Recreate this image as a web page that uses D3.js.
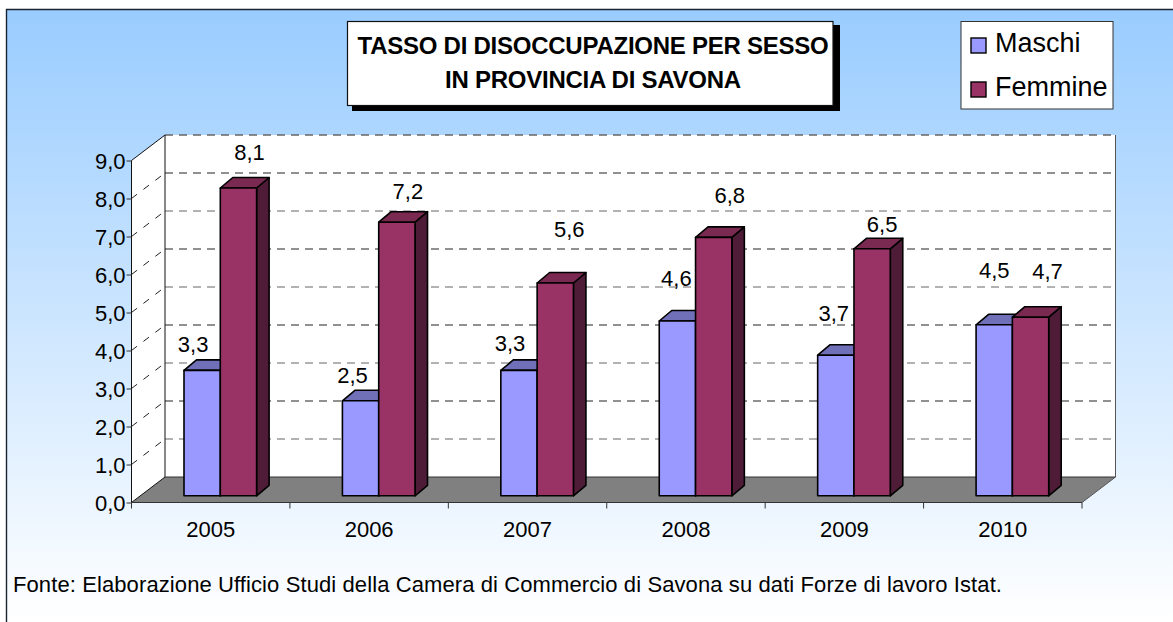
<!DOCTYPE html>
<html><head><meta charset="utf-8">
<script src="https://cdn.jsdelivr.net/npm/d3@7"></script>
<style>html,body{margin:0;padding:0;background:#fff}svg{display:block}text{font-family:"Liberation Sans",Arial,sans-serif;fill:#000}</style>
</head><body><svg id="c" width="1173" height="622"></svg>
<script>
const years=["2005","2006","2007","2008","2009","2010"];
const maschi=[3.3,2.5,3.3,4.6,3.7,4.5];
const femmine=[8.1,7.2,5.6,6.8,6.5,4.7];
const tickValues=[0,1,2,3,4,5,6,7,8,9];
const titleLines=["TASSO DI DISOCCUPAZIONE PER SESSO","IN PROVINCIA DI SAVONA"];
const source="Fonte: Elaborazione Ufficio Studi della Camera di Commercio di Savona su dati Forze di lavoro Istat.";
const seriesNames=["Maschi","Femmine"];
// hand-placed data label nudges, relative to each bar's top centre
const maschiNudgeX=[-9,-8,-9,-1,-2,0], maschiNudgeY=[-18,-18,-19,-35,-34,-47];
const femmineNudgeX=[11,11,14,16,10,17], femmineNudgeY=[-28,-23,-46,-34,-17,-38];

const svg=d3.select("#c");
const fmt=v=>v.toFixed(1).replace(".",",");
const defs=svg.append("defs");
const g=defs.append("linearGradient").attr("id","bg").attr("x1",0).attr("y1",0).attr("x2",0).attr("y2",1);
g.append("stop").attr("offset",0).attr("stop-color","#99CCFF");
g.append("stop").attr("offset",1).attr("stop-color","#FFFFFF");
svg.append("rect").attr("x",6.5).attr("y",9.5).attr("width",1167).attr("height",613).attr("fill","url(#bg)");
svg.append("path").attr("d","M6.5,622V9.5H1173").attr("fill","none").attr("stroke","#1a2430").attr("stroke-width",1.4);

const x=d3.scaleBand().domain(years).range([131.5,1082]);
const y=d3.scaleLinear().domain([0,9]).range([502.5,160.5]);
const wallDx=33.5,wallDy=-25.5;
const x0=x.range()[0],x1=x.range()[1];

const pts=a=>a.map(p=>p.join(",")).join(" ");
svg.append("polygon").attr("points",pts([[x0,y(9)],[x0+wallDx,y(9)+wallDy],[x1+wallDx,y(9)+wallDy],[x1+wallDx,y(0)+wallDy],[x0+wallDx,y(0)+wallDy],[x0,y(0)]])).attr("fill","#fff");
svg.append("polygon").attr("points",pts([[x0,y(0)],[x0+wallDx,y(0)+wallDy],[x1+wallDx,y(0)+wallDy],[x1,y(0)]])).attr("fill","#808080");

tickValues.slice(1).forEach(v=>{
  const yy=y(v);
  svg.append("line").attr("x1",x0+wallDx).attr("x2",x1+wallDx).attr("y1",yy+wallDy).attr("y2",yy+wallDy)
    .attr("stroke",v%2?"#666":"#222").attr("stroke-width",v===9?1.5:1).attr("stroke-dasharray","8,6");
  if(v<9) svg.append("line").attr("x1",x0).attr("x2",x0+wallDx).attr("y1",yy).attr("y2",yy+wallDy)
    .attr("stroke","#222").attr("stroke-dasharray","7,8");
});
svg.append("path").attr("fill","none").attr("stroke","#111").attr("d",
 `M${x0},${y(0)}V${y(9)}L${x0+wallDx},${y(9)+wallDy}V${y(0)+wallDy}L${x0},${y(0)}`);
svg.append("path").attr("fill","none").attr("stroke","#555").attr("d",
 `M${x1+wallDx},${y(9)+wallDy}V${y(0)+wallDy}L${x1},${y(0)}`);
svg.append("line").attr("x1",x0+wallDx).attr("x2",x1+wallDx).attr("y1",y(0)+wallDy).attr("y2",y(0)+wallDy).attr("stroke","#333");

const axL=svg.append("g").attr("transform",`translate(${x0},0)`).call(d3.axisLeft(y).tickValues(tickValues).tickFormat(fmt).tickSize(5).tickPadding(1));
axL.select(".domain").remove();
axL.selectAll("line").attr("stroke","#333");
axL.selectAll("text").style("font-size","22px").attr("dy","0.36em");
const axB=svg.append("g").attr("transform",`translate(0,${y(0)})`).call(d3.axisBottom(x).tickSize(0).tickPadding(19));
axB.select(".domain").attr("stroke","#333").attr("d",`M${x0},0H${x1}`);
axB.selectAll("line").remove();
axB.selectAll("text").style("font-size","22px");
[...years.map(d=>x(d)),x1].forEach(px=>svg.append("line").attr("x1",px).attr("x2",px).attr("y1",y(0)).attr("y2",y(0)+6).attr("stroke","#333"));

const barW=36.3, barInset=52.5;
const barShiftY=-6.7, depthX=12.5, depthY=-10.5;
const colors=[{f:"#9999FF",t:"#7070B8",s:"#5c5c99"},{f:"#993366",t:"#7A2950",s:"#4F1C38"}];
const bar=(cx,v,c)=>{
  const top=y(v)+barShiftY,bot=y(0)+barShiftY,gr=svg.append("g").attr("stroke","#000").attr("stroke-width",1.6).attr("stroke-linejoin","round");
  gr.append("polygon").attr("fill",c.s).attr("points",pts([[cx+barW,top],[cx+barW+depthX,top+depthY],[cx+barW+depthX,bot+depthY],[cx+barW,bot]]));
  gr.append("polygon").attr("fill",c.t).attr("points",pts([[cx,top],[cx+depthX,top+depthY],[cx+barW+depthX,top+depthY],[cx+barW,top]]));
  gr.append("rect").attr("fill",c.f).attr("x",cx).attr("y",top).attr("width",barW).attr("height",bot-top);
};
years.forEach((yr,i)=>{
  const bx=x(yr)+barInset;
  bar(bx,maschi[i],colors[0]);
  bar(bx+barW,femmine[i],colors[1]);
});
const labels=svg.append("g");
years.forEach((yr,i)=>{
  const bx=x(yr)+barInset;
  labels.append("text").attr("x",bx+barW/2+maschiNudgeX[i]).attr("y",y(maschi[i])+barShiftY+maschiNudgeY[i]).attr("text-anchor","middle").style("font-size","22px").text(fmt(maschi[i]));
  labels.append("text").attr("x",bx+barW*1.5+femmineNudgeX[i]).attr("y",y(femmine[i])+barShiftY+femmineNudgeY[i]).attr("text-anchor","middle").style("font-size","22px").text(fmt(femmine[i]));
});

const tb=svg.append("g");
tb.append("rect").attr("x",352).attr("y",25).attr("width",488).attr("height",86).attr("fill","#000");
tb.append("rect").attr("x",347.5).attr("y",21.5).attr("width",485.5).attr("height",84).attr("fill","#fff").attr("stroke","#111").attr("stroke-width",1.2);
titleLines.forEach((t,i)=>tb.append("text").attr("x",593).attr("y",53.5+i*34.5).attr("text-anchor","middle").style("font-size","24px").style("font-weight","bold").style("letter-spacing","-0.25px").text(t));

const lg=svg.append("g");
lg.append("rect").attr("x",961).attr("y",21.5).attr("width",152).attr("height",87.5).attr("fill","#fff").attr("stroke","#333");
seriesNames.forEach((n,i)=>{
  const ly=45+i*44;
  lg.append("rect").attr("x",971).attr("y",ly-7).attr("width",15).attr("height",15).attr("fill",colors[i].f).attr("stroke","#000").attr("stroke-width",1.4);
  lg.append("text").attr("x",995).attr("y",ly+7).style("font-size","27px").text(n);
});

svg.append("text").attr("x",13).attr("y",592).style("font-size","22px").style("letter-spacing","0.1px").text(source);
</script></body></html>
